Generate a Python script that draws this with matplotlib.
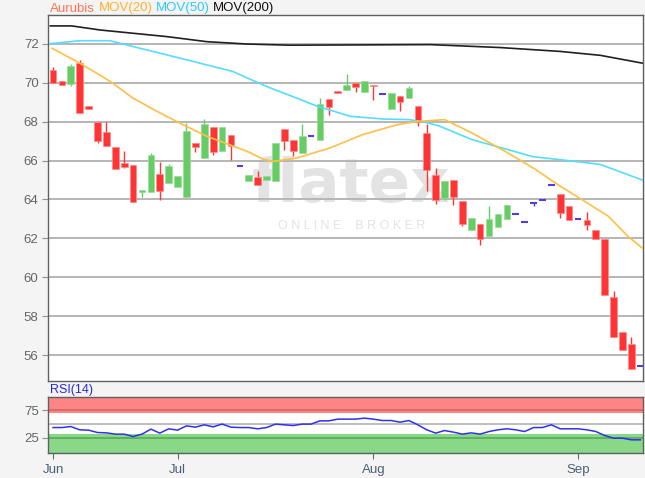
import matplotlib
matplotlib.use("Agg")
import matplotlib.pyplot as plt
import numpy as np

plt.rcParams['font.family'] = ['Liberation Sans', 'DejaVu Sans']

# ---------------- data ----------------
opens = [70.63, 70.10, 69.93, 71.01, 68.78, 67.98, 67.47, 66.69, 65.87, 65.78,
         64.40, 64.36, 65.31, 64.84, 64.64, 64.15, 66.90, 66.13, 67.70, 66.50,
         67.33, 65.70, 64.93, 65.15, 65.00, 64.96, 67.62, 67.07, 66.39, 67.24,
         67.07, 69.16, 69.55, 69.64, 70.00, 69.50, 69.90, 69.42, 68.65, 69.33,
         69.21, 68.82, 67.41, 65.27, 64.07, 65.01, 63.90, 62.44, 62.74, 62.14,
         62.58, 63.00, 63.26, 62.86, 63.83, 63.95, 64.74, 64.29, 63.65, 63.00,
         62.92, 62.44, 61.97, 58.97, 57.20, 56.59, 55.46]
highs = [70.81, 70.10, 70.96, 71.18, 68.78, 67.98, 67.96, 66.69, 66.47, 65.78,
         64.43, 66.36, 65.90, 65.84, 65.18, 67.93, 66.90, 68.13, 67.70, 67.70,
         67.33, 65.70, 65.27, 65.48, 65.23, 66.90, 67.62, 67.07, 67.88, 67.24,
         69.21, 69.16, 69.55, 70.46, 70.00, 70.10, 69.90, 69.42, 69.47, 69.33,
         69.85, 68.82, 67.89, 65.61, 64.93, 65.01, 63.90, 63.04, 62.74, 63.65,
         63.26, 63.69, 63.26, 62.86, 63.83, 63.95, 64.74, 64.29, 63.65, 63.00,
         63.35, 62.44, 61.97, 59.28, 57.20, 56.92, 55.46]
lows = [70.00, 69.88, 69.85, 68.44, 68.66, 66.90, 66.72, 65.56, 65.61, 63.85,
        64.15, 64.36, 63.98, 64.84, 64.64, 64.15, 66.42, 66.13, 66.30, 66.50,
        66.04, 65.70, 64.93, 64.76, 65.00, 64.96, 66.52, 66.21, 66.39, 67.24,
        67.07, 68.35, 69.47, 69.64, 69.50, 69.50, 69.13, 69.42, 68.65, 68.52,
        69.21, 67.79, 64.41, 63.78, 63.98, 63.73, 62.66, 62.44, 61.67, 62.14,
        62.58, 63.00, 63.26, 62.86, 63.65, 63.95, 64.74, 63.06, 62.93, 63.00,
        62.42, 61.97, 59.10, 56.96, 56.29, 55.32, 55.46]
closes = [70.00, 69.88, 70.87, 68.44, 68.66, 67.02, 66.72, 65.56, 65.66, 63.85,
          64.43, 66.26, 64.41, 65.73, 65.18, 67.50, 66.67, 67.88, 66.42, 67.70,
          66.76, 65.70, 65.27, 64.76, 65.23, 66.90, 66.98, 66.47, 67.24, 67.24,
          68.90, 68.75, 69.47, 69.90, 69.78, 70.10, 69.80, 69.42, 69.47, 68.99,
          69.73, 68.00, 65.53, 63.98, 64.93, 64.12, 62.73, 63.04, 61.98, 63.00,
          63.26, 63.69, 63.26, 62.86, 63.83, 63.95, 64.74, 63.31, 62.93, 63.00,
          62.68, 61.97, 59.10, 56.96, 56.29, 55.32, 55.46]

ma20_x = [-0.1, 3.0, 6.4, 9.0, 11.7, 14.6, 17.3, 19.9, 21.8, 23.6, 24.7, 27.4,
          31.1, 34.8, 38.7, 40.9, 44.0, 47.1, 50.8, 54.2, 56.7, 59.4, 62.4, 64.6, 66.2]
ma20_y = [71.76, 71.00, 70.07, 69.20, 68.52, 67.84, 67.24, 66.80, 66.47, 66.08, 65.95, 66.13,
          66.64, 67.33, 67.84, 68.00, 68.10, 67.41, 66.47, 65.55, 64.77, 64.00, 63.14, 62.11, 61.51]

ma50_x = [-0.3, 3.0, 6.4, 9.0, 15.1, 20.2, 24.0, 27.8, 29.6, 33.4, 37.1, 40.0,
          41.5, 43.3, 47.1, 50.8, 53.9, 57.8, 61.5, 66.2]
ma50_y = [72.00, 72.15, 72.15, 71.85, 71.16, 70.57, 69.80, 69.13, 68.80, 68.27, 68.13, 68.10,
          68.00, 67.79, 67.07, 66.60, 66.20, 66.00, 65.80, 65.00]

ma200_x = [-0.3, 2.1, 5.3, 12.8, 17.3, 21.8, 26.6, 42.4, 50.2, 57.0, 61.5, 66.2]
ma200_y = [72.91, 72.91, 72.70, 72.36, 72.10, 71.98, 71.92, 71.95, 71.80, 71.60, 71.40, 71.00]

rsi = [43.3, 43.3, 45.1, 39.2, 38.6, 34.3, 33.7, 31.4, 31.4, 27.0,
       31.4, 40.4, 33.2, 41.0, 38.6, 46.4, 44.0, 48.2, 44.6, 49.5,
       44.0, 43.3, 43.3, 41.0, 43.3, 49.5, 48.2, 46.9, 49.5, 49.5,
       55.4, 55.4, 58.5, 58.5, 58.5, 60.3, 58.5, 56.0, 56.0, 53.0,
       56.0, 48.2, 39.2, 33.2, 37.9, 35.0, 31.4, 33.7, 31.4, 36.1,
       39.2, 41.0, 39.2, 36.1, 43.3, 43.3, 48.2, 41.0, 41.0, 41.0,
       39.2, 36.1, 28.8, 24.1, 24.1, 21.1, 21.1]

month_pos = [0, 14, 36, 59]
month_labels = ["Jun", "Jul", "Aug", "Sep"]
price_ticks = [56, 58, 60, 62, 64, 66, 68, 70, 72]
rsi_ticks = [25, 75]
legend_items = [("Aurubis", '#ff7356'), ("MOV(20)", '#ffb22e'),
                ("MOV(50)", '#2ec8ff'), ("MOV(200)", '#111111')]

# ---------------- figure ----------------
W, H = 645, 478
fig = plt.figure(figsize=(W / 100, H / 100), dpi=100, facecolor='#f4f4f4')

L, R = 48.3, 643.0
ax = fig.add_axes([L / W, 1 - 381 / H, (R - L) / W, (381 - 15) / H])
rax = fig.add_axes([L / W, 1 - 453 / H, (R - L) / W, (453 - 397) / H])

XMIN, XMAX = -0.53, 66.3
for a in (ax, rax):
    a.set_facecolor('white')
    for s in a.spines.values():
        s.set_color('#606060')
        s.set_linewidth(1.0)
    a.set_xlim(XMIN, XMAX)

# watermark
ax.text(0.51, 0.535, "flatex", transform=ax.transAxes, ha='center', va='center',
        fontsize=44, color='#e3e3e3', zorder=0.5, family='DejaVu Sans', fontweight='bold')
ax.text(0.51, 0.423, "O N L I N E    B R O K E R", transform=ax.transAxes, ha='center',
        va='center', fontsize=9, color='#e3e3e3', zorder=0.5)

# grid
for p in price_ticks:
    ax.axhline(p, color='#b5b5b5', lw=1.4, zorder=1)

# candles
red, green, doji = '#ff3434', '#66cc66', '#5a3ad8'
wbody = 0.75
for i, (o, h, l, c) in enumerate(zip(opens, highs, lows, closes)):
    if c > o:
        col = green
    elif c < o:
        col = red
    else:
        col = doji
    if h > l:
        ax.plot([i, i], [l, h], color=col, lw=1.0, zorder=3, solid_capstyle='butt')
    if c == o:
        ax.plot([i - wbody / 2, i + wbody / 2], [o, o], color=col, lw=1.5, zorder=4,
                solid_capstyle='butt')
    else:
        bot = min(o, c)
        hgt = max(abs(c - o), 0.1)
        ax.bar(i, hgt, bottom=bot, width=wbody, color=col,
               edgecolor='#ff8a8a' if col == red else '#99dd99',
               linewidth=0.5, zorder=4)

ax.plot(ma200_x, ma200_y, color='#202020', lw=1.2, zorder=5)
ax.plot(ma50_x, ma50_y, color='#55dcff', lw=1.2, zorder=5)
ax.plot(ma20_x, ma20_y, color='#ffbf45', lw=1.2, zorder=5)

ax.set_ylim(54.68, 73.47)
ax.set_yticks(price_ticks)
ax.set_yticklabels([str(p) for p in price_ticks])
ax.tick_params(axis='y', length=4, color='#909090', labelcolor='#666666', labelsize=9.5, pad=3)
ax.set_xticks([])

# title legend, pieces placed one after another
renderer = fig.canvas.get_renderer()
x0 = 50
for txt, col in legend_items:
    t = fig.text(x0 / W, 1 - 8.5 / H, txt, color=col, fontsize=9.5, va='center', ha='left')
    bb = t.get_window_extent(renderer=renderer)
    x0 += bb.width + 3.5

# RSI panel
rax.axhspan(69, 100, color='#ff8585', zorder=1, lw=0)
rax.axhspan(-5, 31, color='#88d888', zorder=1, lw=0)
rax.axhline(75, color='#d06868', lw=1.2, zorder=2)
rax.axhline(25, color='#5aaa5a', lw=1.2, zorder=2)
rax.axhline(50, color='#b0b0b0', lw=1.2, zorder=2)
rax.plot(range(len(rsi)), rsi, color='#3030f0', lw=1.1, zorder=3)
rax.set_ylim(-2.7, 98.5)
rax.set_yticks(rsi_ticks)
rax.set_yticklabels([str(v) for v in rsi_ticks])
rax.tick_params(axis='y', length=4, color='#909090', labelcolor='#666666', labelsize=9.5, pad=3)
rax.set_xticks(month_pos)
rax.set_xticklabels(month_labels)
rax.tick_params(axis='x', length=4, color='#607080', labelcolor='#4a6078', labelsize=9.5, pad=4)
fig.text(50 / W, 1 - 390 / H, "RSI(14)", color='#2828e0', fontsize=9, va='center', ha='left')

fig.savefig("out.png", dpi=100, facecolor=fig.get_facecolor())
